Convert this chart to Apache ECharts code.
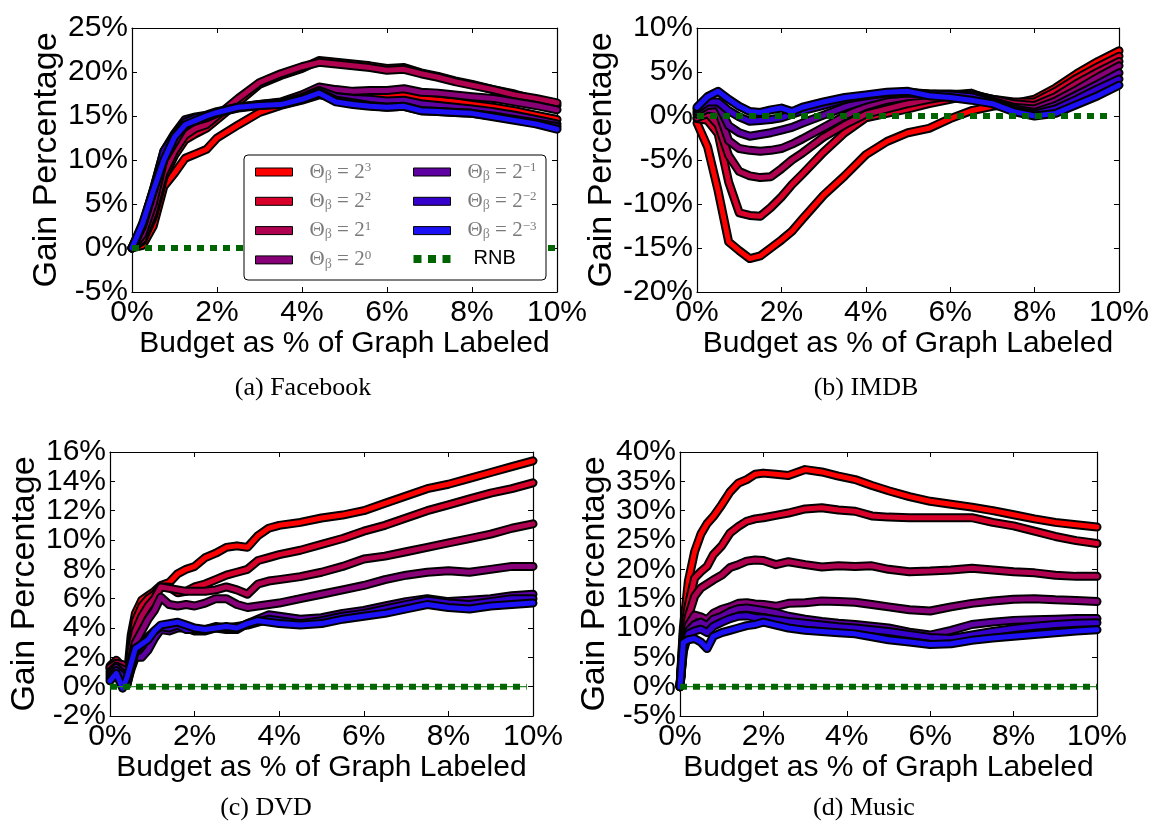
<!DOCTYPE html>
<html><head><meta charset="utf-8">
<script src="https://cdn.jsdelivr.net/npm/echarts@6/dist/echarts.min.js"></script>
<style>html,body{margin:0;padding:0;background:#fff}#c{width:1152px;height:824px}</style>
</head><body><div id="c"></div>
<script>
// ---------- data ----------
const seriesNames = ['Θβ=2^3','Θβ=2^2','Θβ=2^1','Θβ=2^0','Θβ=2^−1','Θβ=2^−2','Θβ=2^−3'];
const seriesColors = ['#ff0000','#d8002a','#b00050','#880078','#5e00a2','#3500cc','#1c10f5'];
const xTicks = [0,2,4,6,8,10];

// (a) Facebook
const fbX   = [0,0.25,0.5,0.75,1,1.25,1.5,1.75,2,2.5,3,3.5,4,4.4,4.8,5.2,5.6,6,6.4,6.8,7.2,7.6,8,8.5,9,9.5,10];
const fbP3  = [0,0.3,2.5,7.0,8.5,10.2,10.7,11.2,12.5,14.0,15.4,16.2,16.8,17.4,17.1,17.0,17.1,17.2,17.4,17.0,16.8,16.6,16.3,16.0,15.6,15.1,14.6];
const fbP2  = [0,0.8,3.5,8.0,10.5,12.3,13.0,13.6,14.6,16.6,18.6,19.6,20.4,21.3,21.1,20.9,20.7,20.4,20.5,19.9,19.5,19.0,18.6,18.0,17.5,16.8,16.2];
const fbP1  = [0,1.0,4.0,8.5,11.0,12.8,13.6,14.0,15.0,17.0,18.8,19.8,20.6,21.1,20.9,20.7,20.5,20.2,20.3,19.8,19.4,18.9,18.5,18.0,17.4,17.0,16.5];
const fbP0  = [0,1.5,5.0,10.0,12.0,14.0,14.5,14.8,15.3,16.0,16.3,16.6,17.4,18.3,18.0,17.8,17.9,17.9,18.1,17.7,17.6,17.4,17.2,17.0,16.6,16.2,15.7];
const fbM1  = [0,2.5,6.5,11.0,13.0,14.6,14.9,15.1,15.5,16.0,16.3,16.5,17.1,17.9,17.2,17.0,16.9,16.7,16.8,16.4,16.2,16.0,15.8,15.5,15.1,14.6,14.1];
const fbM2  = [0,2.6,6.6,11.0,12.8,14.3,14.8,15.0,15.4,15.9,16.2,16.4,17.0,17.7,16.8,16.5,16.2,16.0,16.1,15.6,15.5,15.4,15.3,15.0,14.6,14.2,13.8];
const fbM3  = [0,2.8,6.5,10.0,12.6,14.0,14.5,15.0,15.4,16.0,16.2,16.3,16.9,17.6,16.6,16.3,16.1,16.0,16.1,15.6,15.5,15.4,15.3,14.9,14.5,14.1,13.5];
const fbRnbX = [0,10];
const fbRnb  = [0,0];

// (b) IMDB
const imX   = [0,0.25,0.5,0.75,1,1.25,1.5,1.75,2,2.25,2.5,3,3.5,4,4.5,5,5.5,6,6.5,7,7.5,8,8.5,9,9.5,10];
const imP3  = [-0.8,-3.5,-8.5,-14.3,-15.3,-16.2,-15.9,-15.0,-14.1,-13.1,-11.7,-9.0,-6.8,-4.4,-2.9,-1.9,-1.4,-0.3,0.6,1.1,1.4,1.9,3.2,4.8,6.2,7.4];
const imP2  = [-0.3,-0.5,-2.0,-7.5,-11.0,-11.3,-11.4,-10.4,-9.2,-7.8,-6.6,-4.1,-1.9,-0.2,0.3,0.8,1.4,1.9,2.4,1.9,1.6,1.6,2.8,4.3,5.6,6.8];
const imP1  = [-0.2,0.3,-1.0,-4.5,-6.3,-6.8,-7.0,-6.9,-6.0,-5.0,-4.2,-2.4,-1.0,0.2,0.8,1.4,1.9,2.3,2.5,1.9,1.4,1.2,2.2,3.7,5.0,6.2];
const imP0  = [0.2,0.8,0.6,-2.8,-3.7,-3.9,-4.0,-3.9,-3.7,-3.2,-2.6,-1.3,0.0,1.1,1.8,2.2,2.4,2.4,2.6,1.7,1.0,0.8,1.7,3.0,4.4,5.7];
const imM1  = [0.5,1.2,1.3,-1.1,-1.9,-2.3,-2.1,-1.9,-1.6,-1.3,-0.8,0.1,1.0,1.8,2.4,2.6,2.5,2.5,2.4,1.6,0.8,0.4,1.2,2.4,3.6,4.9];
const imM2  = [0.8,1.6,1.6,0.6,-0.1,-0.6,-0.5,-0.4,-0.2,0.2,0.6,1.2,1.9,2.3,2.6,2.7,2.5,2.4,2.2,1.5,0.6,0.2,0.8,1.9,3.1,4.2];
const imM3  = [1.0,2.2,2.8,1.9,1.1,0.5,0.4,0.7,0.9,0.5,1.0,1.6,2.1,2.4,2.7,2.8,2.3,2.1,1.8,1.4,0.5,0.0,0.3,1.3,2.3,3.5];
const imRnbX = [0,9.8];
const imRnb  = [0,0];

// (c) DVD
const dvX   = [0,0.15,0.3,0.4,0.5,0.6,0.75,0.9,1.05,1.2,1.4,1.6,1.8,2,2.25,2.5,2.75,3,3.25,3.5,3.75,4,4.5,5,5.5,6,6.5,7,7.5,8,8.5,9,9.5,10];
const dvP3  = [1.2,1.6,1.0,0.4,3.5,5.0,5.9,6.2,6.5,6.9,7.1,7.7,8.0,8.2,8.8,9.1,9.5,9.6,9.5,10.3,10.8,11.0,11.2,11.5,11.7,12.0,12.5,13.0,13.5,13.8,14.2,14.6,15.0,15.4];
const dvP2  = [1.4,1.8,1.3,0.2,2.8,4.5,5.5,6.0,6.3,6.8,6.8,6.4,6.5,6.8,7.0,7.3,7.6,7.8,8.0,8.6,8.8,9.0,9.3,9.7,10.1,10.6,11.0,11.5,12.0,12.4,12.8,13.2,13.5,13.9];
const dvP1  = [1.3,1.6,1.5,0.6,2.5,3.8,4.8,5.5,6.0,6.8,6.7,6.6,6.5,6.5,6.5,6.6,6.8,6.6,6.3,7.0,7.2,7.3,7.5,7.8,8.2,8.7,8.9,9.2,9.5,9.8,10.1,10.4,10.8,11.1];
const dvP0  = [1.0,1.4,1.2,0.5,1.8,3.0,3.8,4.6,5.2,6.1,5.6,5.5,5.6,5.5,5.7,6.0,6.0,5.6,5.4,5.5,5.6,5.7,6.0,6.3,6.6,6.9,7.3,7.6,7.8,7.9,7.8,8.0,8.2,8.2];
const dvM1  = [0.8,1.3,0.9,0.2,1.2,2.0,2.0,2.5,3.3,3.9,3.8,4.0,4.0,3.8,3.8,4.0,3.9,3.9,4.3,4.6,4.9,4.8,4.6,4.7,5.0,5.2,5.5,5.8,6.0,5.8,5.9,6.0,6.2,6.3];
const dvM2  = [0.6,1.1,0.7,0.1,1.4,2.4,2.9,3.4,3.8,4.1,4.0,4.2,3.9,3.9,3.9,4.1,4.0,4.1,4.2,4.4,4.6,4.5,4.3,4.5,4.8,5.0,5.3,5.6,5.9,5.7,5.6,5.8,6.0,6.0];
const dvM3  = [0.4,0.9,-0.1,0.6,1.6,2.6,2.9,3.2,3.8,4.2,4.3,4.4,4.2,4.0,3.9,4.0,4.1,4.0,4.3,4.5,4.4,4.3,4.2,4.3,4.6,4.8,5.0,5.3,5.6,5.4,5.3,5.5,5.6,5.7];
const dvRnbX = [0,9.85];
const dvRnb  = [0,0];

// (d) Music
const muX   = [0,0.08,0.2,0.35,0.5,0.65,0.8,1,1.2,1.4,1.6,1.8,2,2.3,2.6,3,3.4,3.8,4.2,4.6,5,5.5,6,6.5,7,7.5,8,8.5,9,9.5,10];
const muP3  = [0,10,18,23,26,27.8,29.0,31,33.2,34.7,35.3,36.2,36.4,36.2,36.0,37.0,36.6,35.9,35.3,34.3,33.4,32.4,31.6,31.1,30.6,30.0,29.3,28.6,28.0,27.6,27.2];
const muP2  = [0,9,14,18.5,19.6,20.5,22.5,24.0,26.2,27.3,28.2,28.6,28.8,29.2,29.6,30.3,30.5,30.1,29.9,29.1,28.9,28.8,28.8,28.8,28.8,28.0,27.4,26.5,25.6,24.9,24.4];
const muP1  = [0,8,12,15.4,16.8,17.5,18.2,19.0,20.3,20.8,21.4,21.6,21.5,20.8,21.3,20.8,20.4,20.6,20.5,20.6,20.0,19.6,19.7,19.9,20.2,19.9,19.6,19.4,19.0,18.8,18.8];
const muP0  = [0,7,10.5,12.2,11.9,11.4,12.5,13.2,13.6,14.2,14.3,14.1,14.0,13.7,14.2,14.3,14.6,14.5,14.4,14.0,13.6,13.1,12.9,13.6,14.2,14.6,14.9,15.0,14.8,14.7,14.5];
const muM1  = [0,6.5,9.5,10.6,11.0,10.4,11.5,12.0,12.8,13.3,13.4,13.2,13.0,12.6,12.0,11.5,11.1,10.8,10.6,10.3,10.0,9.3,8.8,9.6,10.6,11.0,11.3,11.4,11.5,11.6,11.6];
const muM2  = [0,6,9.0,9.5,9.8,9.2,10.3,11.0,11.6,12.0,12.1,11.8,11.7,11.4,11.1,10.8,10.5,10.2,10.0,9.7,9.4,8.9,8.4,8.2,8.8,9.4,9.9,10.3,10.6,10.8,10.9];
const muM3  = [0,7.5,8.0,8.2,7.6,6.5,8.6,9.2,9.6,10.0,10.4,10.6,11.0,10.5,10.0,9.6,9.4,9.2,9.0,8.5,8.0,7.6,7.2,7.3,7.9,8.3,8.6,8.9,9.2,9.5,9.7];
const muRnbX = [0,10];
const muRnb  = [0,0];

const panels = [
  {x: fbX, ys: [fbP3,fbP2,fbP1,fbP0,fbM1,fbM2,fbM3], rx: fbRnbX, ry: fbRnb, min:-5, max:25, step:5,
   grid:{left:132, top:28, width:425, height:264}, caption:'(a) Facebook', cx:303, cy:388, thin:false},
  {x: imX, ys: [imP3,imP2,imP1,imP0,imM1,imM2,imM3], rx: imRnbX, ry: imRnb, min:-20, max:10, step:5,
   grid:{left:697, top:28, width:424, height:264}, caption:'(b) IMDB', cx:866, cy:388, thin:false},
  {x: dvX, ys: [dvP3,dvP2,dvP1,dvP0,dvM1,dvM2,dvM3], rx: dvRnbX, ry: dvRnb, min:-2, max:16, step:2,
   grid:{left:110, top:452, width:423, height:264}, caption:'(c) DVD', cx:266, cy:808, thin:true},
  {x: muX, ys: [muP3,muP2,muP1,muP0,muM1,muM2,muM3], rx: muRnbX, ry: muRnb, min:-5, max:40, step:5,
   grid:{left:680, top:452, width:417, height:264}, caption:'(d) Music', cx:864, cy:808, thin:true}
];

// ---------- build ----------
const SANS = 'Liberation Sans, Arial, sans-serif';
const SERIF = 'Liberation Serif, Times New Roman, serif';
const grids = [], xAxes = [], yAxes = [], series = [], graphics = [];
const tickStyle = {show:true, inside:true, length:5, lineStyle:{color:'#000', width:1}};
const lineAx = {show:true, onZero:false, lineStyle:{color:'#000', width:1.2}};
const labelFont = {fontFamily:SANS, fontSize:30, color:'#000', hideOverlap:false};

panels.forEach((p, i) => {
  grids.push(Object.assign({containLabel:false}, p.grid));
  const xi = xAxes.length, yi = yAxes.length;
  xAxes.push({type:'value', gridIndex:i, min:0, max:10, interval:2, position:'bottom',
    axisLine:lineAx, axisTick:tickStyle, splitLine:{show:false},
    axisLabel:Object.assign({formatter:'{value}%', margin:6, showMinLabel:true, showMaxLabel:true}, labelFont),
    name:'Budget as % of Graph Labeled', nameLocation:'middle', nameGap:36,
    nameTextStyle:{fontFamily:SANS, fontSize:30, color:'#000'}});
  xAxes.push({type:'value', gridIndex:i, min:0, max:10, interval:2, position:'top',
    axisLine:lineAx, axisTick:tickStyle, splitLine:{show:false}, axisLabel:{show:false}});
  // main left y axis: line, ticks, labels at even steps, name
  const isEven = (v) => Math.round((v - p.min) / p.step) % 2 === 0;
  yAxes.push({type:'value', gridIndex:i, min:p.min, max:p.max, interval:p.step, position:'left',
    axisLine:lineAx, axisTick:tickStyle, splitLine:{show:false},
    axisLabel:Object.assign({formatter:(v) => isEven(v) ? v + '%' : '', margin:4,
      showMinLabel:true, showMaxLabel:isEven(p.max)}, labelFont),
    name:'Gain Percentage', nameLocation:'middle', nameGap:63,
    nameTextStyle:{fontFamily:SANS, fontSize:34, color:'#000'}});
  // companion left y axis: labels at odd steps only
  yAxes.push({type:'value', gridIndex:i, min:p.min, max:p.max, interval:p.step, position:'left', offset:0,
    axisLine:{show:false, onZero:false}, axisTick:{show:false}, splitLine:{show:false},
    axisLabel:Object.assign({formatter:(v) => isEven(v) ? '' : v + '%', margin:4,
      showMinLabel:false, showMaxLabel:!isEven(p.max)}, labelFont)});
  yAxes.push({type:'value', gridIndex:i, min:p.min, max:p.max, interval:p.step, position:'right',
    axisLine:lineAx, axisTick:tickStyle, splitLine:{show:false}, axisLabel:{show:false}});

  p.ys.forEach((ys, k) => {
    const data = p.x.map((xv, j) => [xv, ys[j]]);
    series.push({type:'line', name:'_outline_'+i+'_'+k, xAxisIndex:xi, yAxisIndex:yi, data,
      symbol:'none', silent:true, animation:false,
      lineStyle:{color:'#000', width:9, cap:'round', join:'round'}});
    series.push({type:'line', name:seriesNames[k], xAxisIndex:xi, yAxisIndex:yi, data,
      symbol:'none', silent:true, animation:false,
      itemStyle:{color:seriesColors[k]},
      lineStyle:{color:seriesColors[k], width:5, cap:'round', join:'round'}});
  });
  const rdata = p.rx.map((xv, j) => [xv, p.ry[j]]);
  if (p.thin) {
    series.push({type:'line', name:'_rnbthin_'+i, xAxisIndex:xi, yAxisIndex:yi, data:rdata,
      symbol:'none', silent:true, animation:false, lineStyle:{color:'#2a8a2a', width:1.2}});
  }
  series.push({type:'line', name:'RNB', xAxisIndex:xi, yAxisIndex:yi, data:rdata,
    symbol:'none', silent:true, animation:false, itemStyle:{color:'#006400'},
    lineStyle:{color:'#006400', width:6, type:[7,6], cap:'butt'}});

  graphics.push({type:'text', x:p.cx, y:p.cy, z:10,
    style:{text:p.caption, font:'26px ' + SERIF, fill:'#000', align:'center', verticalAlign:'middle',
           textAlign:'center', textVerticalAlign:'middle'}});
});

// legend box (panel a)
graphics.push({type:'rect', z:150, shape:{x:244, y:155, width:302, height:125, r:4},
  style:{fill:'#fff', stroke:'#000', lineWidth:1}});

const legendRich = {
  g:{width:12},
  gr:{width:18},
  t:{fontFamily:SERIF, fontSize:21, color:'#7a7a7a', lineHeight:22},
  s:{fontFamily:SERIF, fontSize:14, color:'#8a8a8a', verticalAlign:'bottom'},
  p:{fontFamily:SERIF, fontSize:13, color:'#7a7a7a', verticalAlign:'top'},
  r:{fontFamily:SANS, fontSize:20, color:'#000', lineHeight:22}
};
const legendFmt = (name) => {
  if (name === 'RNB') return '{gr|}{r|RNB}';
  const e = name.split('^')[1];
  return '{g|}{t|Θ}{s|β}{t| = 2}{p|' + e + '}';
};
const rnbIcon = 'path://M0,0h8v8h-8z M14.5,0h8v8h-8z M29,0h8v8h-8z';
const legendBase = {orient:'vertical', top:161, itemWidth:37, itemHeight:8, itemGap:7.3, icon:'rect',
  padding:0, z:200, selectedMode:false,
  itemStyle:{borderColor:'#000', borderWidth:1},
  textStyle:{rich:legendRich}, formatter:legendFmt};

const option = {
  animation:false,
  backgroundColor:'#fff',
  grid:grids, xAxis:xAxes, yAxis:yAxes, series,
  legend:[
    Object.assign({}, legendBase, {left:255, data:seriesNames.slice(0,4)}),
    Object.assign({}, legendBase, {left:413, data:seriesNames.slice(4).concat([
      {name:'RNB', icon:rnbIcon, itemStyle:{borderWidth:0, color:'#006400'}}])})
  ],
  graphic:graphics
};
const chart = echarts.init(document.getElementById('c'), null, {renderer:'canvas'});
chart.setOption(option);
</script></body></html>
